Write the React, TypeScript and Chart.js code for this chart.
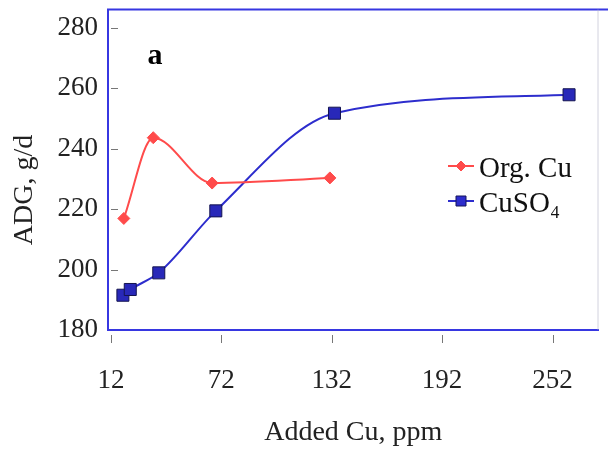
import React, { useEffect, useRef } from "react";
import { Chart, registerables } from "chart.js";

Chart.register(...registerables);

// ---- data ----
const ORG_X = [19, 35, 67, 131];
const ORG_Y = [216.9, 243.6, 228.6, 230.3];
const CUSO4_X = [18.5, 22.5, 38, 69, 133.5, 261];
const CUSO4_Y = [191.5, 193.4, 198.9, 219.4, 251.7, 257.8];
const X_TICKS = [12, 72, 132, 192, 252];
const Y_TICKS = [180, 200, 220, 240, 260, 280];
const SERIES_LABELS = ["Org. Cu", "CuSO₄"];
const X_TITLE = "Added Cu, ppm";
const Y_TITLE = "ADG, g/d";
const PANEL_LABEL = "a";

const RED = "rgb(255,75,75)";
const BLUE = "rgb(45,45,205)";
const FRAME = "rgb(55,55,225)";
const SERIF = "'Liberation Serif', 'Times New Roman', serif";

export default function App() {
  const ref = useRef<HTMLCanvasElement | null>(null);

  useEffect(() => {
    document.body.style.margin = "0";
    const canvas = ref.current;
    if (!canvas) return;

    const decor = {
      id: "decor",
      afterDraw(chart: any) {
        const { ctx, chartArea } = chart;
        const xs = chart.scales.x;
        const ys = chart.scales.y;
        ctx.save();
        // top frame
        ctx.strokeStyle = FRAME;
        ctx.lineWidth = 2;
        ctx.beginPath();
        ctx.moveTo(chartArea.left - 1, chartArea.top);
        ctx.lineTo(chart.width, chartArea.top);
        ctx.stroke();
        // faint right edge
        ctx.strokeStyle = "rgba(180,180,200,0.6)";
        ctx.lineWidth = 1;
        ctx.beginPath();
        ctx.moveTo(chartArea.right - 0.5, chartArea.top);
        ctx.lineTo(chartArea.right - 0.5, chartArea.bottom);
        ctx.stroke();
        // tick marks
        ctx.strokeStyle = "#777";
        ctx.lineWidth = 1;
        Y_TICKS.forEach((v) => {
          if (v === 180) return;
          const py = Math.round(ys.getPixelForValue(v)) + 0.5;
          ctx.beginPath();
          ctx.moveTo(chartArea.left + 3, py);
          ctx.lineTo(chartArea.left + 10, py);
          ctx.stroke();
        });
        X_TICKS.forEach((v) => {
          const px = Math.round(xs.getPixelForValue(v)) + 0.5;
          ctx.beginPath();
          ctx.moveTo(px, chartArea.bottom + 5);
          ctx.lineTo(px, chartArea.bottom + 13);
          ctx.stroke();
        });
        // y title
        ctx.fillStyle = "#222";
        ctx.font = `28px ${SERIF}`;
        ctx.textAlign = "center";
        ctx.textBaseline = "middle";
        ctx.save();
        ctx.translate(25, 190);
        ctx.rotate(-Math.PI / 2);
        ctx.fillText(Y_TITLE, 0, 0);
        ctx.restore();
        // panel label
        ctx.font = `bold 30px ${SERIF}`;
        ctx.fillStyle = "#000";
        ctx.fillText(PANEL_LABEL, 155, 56);
        // legend
        const items = [
          { color: RED, style: "rectRot", r: 5, y: 166 },
          { color: BLUE, style: "rect", r: 7, y: 201 },
        ];
        items.forEach((it, i) => {
          ctx.strokeStyle = it.color;
          ctx.lineWidth = 2;
          ctx.beginPath();
          ctx.moveTo(448, it.y);
          ctx.lineTo(474, it.y);
          ctx.stroke();
          ctx.fillStyle = it.color;
          ctx.strokeStyle = i === 1 ? "rgb(20,20,90)" : it.color;
          ctx.lineWidth = 1;
          ctx.beginPath();
          if (it.style === "rect") {
            ctx.rect(461 - 5, it.y - 5, 10, 10);
          } else {
            ctx.moveTo(461, it.y - it.r);
            ctx.lineTo(461 + it.r, it.y);
            ctx.lineTo(461, it.y + it.r);
            ctx.lineTo(461 - it.r, it.y);
            ctx.closePath();
          }
          ctx.fill();
          ctx.stroke();
          ctx.fillStyle = "#111";
          ctx.font = `29px ${SERIF}`;
          ctx.textAlign = "left";
          ctx.textBaseline = "middle";
          ctx.fillText(SERIES_LABELS[i], 479, it.y + 3);
        });
        ctx.restore();
      },
    };

    const chart = new Chart(canvas, {
      type: "line",
      data: {
        datasets: [
          {
            label: SERIES_LABELS[0],
            data: ORG_X.map((x, i) => ({ x, y: ORG_Y[i] })),
            borderColor: RED,
            backgroundColor: RED,
            borderWidth: 2,
            pointStyle: "rectRot",
            pointRadius: 6,
            pointBorderWidth: 1,
            pointBorderColor: RED,
            cubicInterpolationMode: "monotone",
          },
          {
            label: SERIES_LABELS[1],
            data: CUSO4_X.map((x, i) => ({ x, y: CUSO4_Y[i] })),
            borderColor: BLUE,
            backgroundColor: "rgb(40,40,185)",
            borderWidth: 2,
            pointStyle: "rect",
            pointRadius: 8.5,
            pointBorderWidth: 1,
            pointBorderColor: "rgb(20,20,80)",
            cubicInterpolationMode: "monotone",
          },
        ],
      },
      plugins: [decor],
      options: {
        responsive: false,
        animation: false,
        layout: { padding: { top: 8, right: 0, left: 0, bottom: 0 } },
        plugins: { legend: { display: false }, tooltip: { enabled: false } },
        scales: {
          x: {
            type: "linear",
            min: 10.4,
            max: 277,
            afterBuildTicks: (s: any) => {
              s.ticks = X_TICKS.map((v) => ({ value: v }));
            },
            afterFit: (s: any) => {
              s.height = 119;
              s.paddingLeft = 0;
              s.paddingRight = 0;
            },
            grid: { display: false, drawTicks: false },
            border: { display: true, color: FRAME, width: 2 },
            ticks: {
              color: "#222",
              font: { family: SERIF, size: 27 },
              padding: 35,
              maxRotation: 0,
              autoSkip: false,
            },
            title: {
              display: true,
              text: X_TITLE,
              color: "#222",
              font: { family: SERIF, size: 28 },
              padding: { top: 0, bottom: 0 },
            },
          },
          y: {
            type: "linear",
            min: 180,
            max: 286,
            afterBuildTicks: (s: any) => {
              s.ticks = Y_TICKS.map((v) => ({ value: v }));
            },
            afterFit: (s: any) => {
              s.width = 108;
              s.paddingTop = 0;
              s.paddingBottom = 0;
            },
            grid: { display: false, drawTicks: false },
            border: { display: true, color: FRAME, width: 2 },
            ticks: {
              color: "#222",
              font: { family: SERIF, size: 27 },
              padding: 10,
              autoSkip: false,
            },
          },
        },
      },
    });
    return () => chart.destroy();
  }, []);

  return (
    <div style={{ width: 608, height: 449 }}>
      <canvas ref={ref} width={608} height={449} />
    </div>
  );
}
